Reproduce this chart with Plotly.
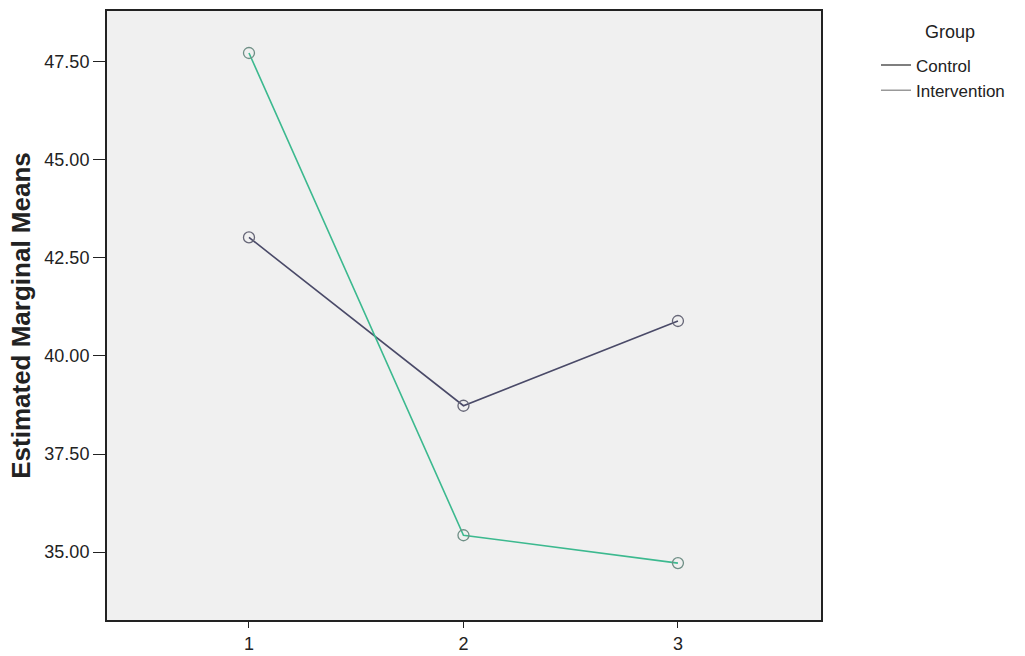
import plotly.graph_objects as go

time_points = [1, 2, 3]
control_means = [43.02, 38.73, 40.89]
intervention_means = [47.72, 35.43, 34.72]
y_ticks = [35.0, 37.5, 40.0, 42.5, 45.0, 47.5]
y_tick_labels = ["35.00", "37.50", "40.00", "42.50", "45.00", "47.50"]

fig = go.Figure()
fig.add_trace(go.Scatter(
    x=time_points, y=control_means, mode="lines+markers", name="Control",
    line=dict(color="#4a4a68", width=1.6),
    marker=dict(symbol="circle-open", size=11, color="#666677", line=dict(width=1.3)),
    showlegend=False))
fig.add_trace(go.Scatter(
    x=time_points, y=intervention_means, mode="lines+markers", name="Intervention",
    line=dict(color="#3cb98f", width=1.6),
    marker=dict(symbol="circle-open", size=11, color="#6f8f86", line=dict(width=1.3)),
    showlegend=False))
# legend entries (SPSS shows grey keys)
fig.add_trace(go.Scatter(x=[None], y=[None], mode="lines", name="Control",
                         line=dict(color="#555555", width=1.5)))
fig.add_trace(go.Scatter(x=[None], y=[None], mode="lines", name="Intervention",
                         line=dict(color="#999999", width=1.5)))

fig.update_layout(
    width=1025, height=656,
    margin=dict(l=107, r=204, t=11, b=36, autoexpand=False),
    paper_bgcolor="white", plot_bgcolor="#f0f0f0",
    font=dict(family="Liberation Sans, Arial, sans-serif", size=18, color="#222222"),
    legend=dict(x=1.077, y=0.94, xanchor="left", yanchor="top",
                font=dict(size=17), tracegroupgap=0, itemwidth=30,
                bgcolor="rgba(0,0,0,0)"),
    showlegend=True,
    annotations=[dict(text="Group", xref="paper", yref="paper", x=1.1807, y=0.966,
                      xanchor="center", yanchor="middle", showarrow=False,
                      font=dict(size=18, color="#222222"))],
)
fig.update_xaxes(range=[0.338, 3.667], tickvals=time_points, ticktext=["1", "2", "3"],
                 showgrid=False, zeroline=False, showline=True, linecolor="#222222",
                 linewidth=2, mirror=True, ticks="outside", ticklen=6, tickcolor="#222222",
                 tickfont=dict(size=18), automargin=False)
fig.update_yaxes(range=[33.27, 48.79], tickvals=y_ticks, ticktext=y_tick_labels,
                 showgrid=False, zeroline=False, showline=True, linecolor="#222222",
                 linewidth=2, mirror=True, ticks="outside", ticklen=12, tickcolor="#222222",
                 tickfont=dict(size=18), automargin=False,
                 title=dict(text="<b>Estimated Marginal Means</b>", font=dict(size=26), standoff=6))

fig.write_html("out.html", config={"displayModeBar": False},
               post_script="document.body.style.margin='0px';")
